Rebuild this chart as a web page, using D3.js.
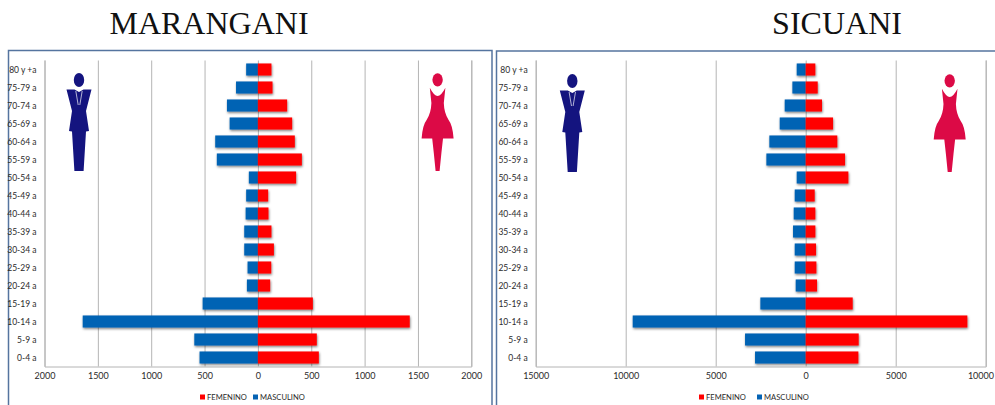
<!DOCTYPE html>
<html>
<head>
<meta charset="utf-8">
<script src="https://cdn.jsdelivr.net/npm/d3@7"></script>
<style>
html,body{margin:0;padding:0;background:#fff;overflow:hidden}
svg{display:block}
text{font-family:Lato,"Open Sans",sans-serif;fill:#2b2b2b}
</style>
</head>
<body>
<svg id="chart" width="995" height="405"></svg>
<script>
// Age groups, top row first
const ageGroups = ["80 y +a","75-79 a","70-74 a","65-69 a","60-64 a","55-59 a","50-54 a","45-49 a","40-44 a","35-39 a","30-34 a","25-29 a","20-24 a","15-19 a","10-14 a","5-9 a","0-4 a"];

// Marangani population by sex
const maranganiMasculino = [110,205,290,265,400,385,85,110,115,128,128,97,103,518,1642,596,547];
const maranganiFemenino  = [127,137,274,321,346,412,358,96,99,127,150,125,115,515,1423,552,571];
const maranganiTicks = [-2000,-1500,-1000,-500,0,500,1000,1500,2000];

// Sicuani population by sex
const sicuaniMasculino = [500,740,1167,1444,2020,2185,500,611,667,704,611,611,556,2519,9611,3370,2815];
const sicuaniFemenino  = [535,667,906,1519,1756,2185,2370,500,535,537,574,593,630,2611,8981,2944,2926];
const sicuaniTicks = [-15000,-10000,-5000,0,5000,10000];

const colorMasculino = "#0563b4";
const colorFemenino = "#ff0000";
const colorMan = "#14147f";
const colorWoman = "#dc0a46";
const frameColor = "#55749f";
const gridColor = "#b4b4b4";

const svg = d3.select("#chart");

svg.append("defs").append("filter")
  .attr("id","barShadow").attr("x","-10%").attr("y","-20%").attr("width","120%").attr("height","160%")
  .append("feDropShadow")
  .attr("dx",0.6).attr("dy",1.4).attr("stdDeviation",0.9)
  .attr("flood-color","#000").attr("flood-opacity",0.5);

// Standing man in a suit, origin at the top centre of the head
function drawMan(g){
  g.append("ellipse").attr("cx",0).attr("cy",7).attr("rx",5.2).attr("ry",7).attr("fill",colorMan);
  g.append("path").attr("fill",colorMan)
    .attr("d","M-12.5,16.5 L-4.5,16.5 L0,19 L4.5,16.5 L12.5,16.5 L7,38 L10,58 L7,58.5 L4.6,98 L-4.6,98 L-7,58.5 L-10,58 L-7,38 Z");
  g.append("path").attr("fill","none").attr("stroke","#fff").attr("stroke-width",0.8).attr("stroke-opacity",0.85)
    .attr("d","M-3.2,18 L-0.8,32 M3.2,18 L0.8,32");
}

// Standing woman in a flared dress, origin at the top centre of the head
function drawWoman(g){
  g.append("ellipse").attr("cx",0).attr("cy",6.8).attr("rx",5.2).attr("ry",6.6).attr("fill",colorWoman);
  g.append("path").attr("fill",colorWoman)
    .attr("d","M-7.8,14.7 Q-3.5,23 0,23 Q3.5,23 7.8,14.7 L6.2,30 Q6.5,40 11,47 Q15,52 16,65.5 L5.4,65.5 L3.8,80 L2,98 L-2,98 L-3.8,80 L-5.4,65.5 L-16,65.5 Q-15,52 -11,47 Q-6.5,40 -6.2,30 Z");
}

function pyramid(cfg){
  const x = d3.scaleLinear().domain(cfg.domain).range([cfg.left,cfg.right]);
  const y = d3.scaleBand().domain(ageGroups).range([60.5,366.5]).paddingInner(0.33).paddingOuter(0.165);

  // panel frame runs past the bottom edge of the page
  svg.append("path")
    .attr("d",`M${cfg.frameLeft},412V${cfg.frameTop}H${cfg.frameRight}V412`)
    .attr("fill","none").attr("stroke",frameColor).attr("stroke-width",1.5);

  svg.append("text").attr("x",cfg.titleX).attr("y",33.5).attr("text-anchor","middle")
    .style("font-family","'Liberation Serif',serif").style("font-size","32px").style("fill","#111")
    .text(cfg.title);

  const xAxis = d3.axisBottom(x).tickValues(cfg.ticks).tickSize(-306).tickPadding(7)
    .tickFormat(d => String(Math.abs(d)));
  const gx = svg.append("g").attr("transform","translate(0,366.5)").call(xAxis);
  gx.select(".domain").attr("stroke",gridColor);
  gx.selectAll(".tick line").attr("stroke",gridColor).attr("y2",-306);
  gx.selectAll(".tick text").style("font-size","9px").attr("dy","0.6em").attr("fill","#2b2b2b");
  // the last label would overrun the page, so it is held back from the edge
  gx.selectAll(".tick text").filter(d => x(d) > 975)
    .attr("text-anchor","end").attr("x",993.5 - x(cfg.domain[1]));

  const yAxis = d3.axisLeft(y).tickSize(0).tickPadding(8);
  const gy = svg.append("g").attr("transform",`translate(${cfg.left},0)`).call(yAxis);
  gy.select(".domain").remove();
  gy.selectAll(".tick text").style("font-size","8.5px").attr("dy","0.45em").attr("fill","#2b2b2b");

  const series = [
    {values:cfg.masculino, color:colorMasculino, sign:-1},
    {values:cfg.femenino, color:colorFemenino, sign:1}
  ];
  series.forEach(s => {
    svg.append("g").attr("filter","url(#barShadow)")
      .selectAll("rect").data(s.values).join("rect")
      .attr("x",d => Math.min(x(0),x(s.sign*d)))
      .attr("width",d => Math.abs(x(s.sign*d)-x(0)))
      .attr("y",(d,i) => y(ageGroups[i]))
      .attr("height",y.bandwidth())
      .attr("fill",s.color);
  });

  drawMan(svg.append("g").attr("transform",`translate(${cfg.manX},${cfg.iconTop})`));
  drawWoman(svg.append("g").attr("transform",`translate(${cfg.womanX},${cfg.iconTop})`));

  // legend row under the axis
  const legend = [
    {label:"FEMENINO",color:colorFemenino,x:cfg.legendX[0]},
    {label:"MASCULINO",color:colorMasculino,x:cfg.legendX[1]}
  ];
  const lg = svg.append("g").selectAll("g").data(legend).join("g")
    .attr("transform",d => `translate(${d.x},394.5)`);
  lg.append("rect").attr("width",5).attr("height",5).attr("fill",d => d.color);
  lg.append("text").attr("x",7).attr("y",5.5).style("font-size","7.6px").text(d => d.label);
}

pyramid({
  title:"MARANGANI", titleX:209,
  domain:[-2000,2000], left:44.5, right:471.3, ticks:maranganiTicks,
  masculino:maranganiMasculino, femenino:maranganiFemenino,
  frameLeft:8.5, frameRight:492, frameTop:50.5,
  manX:79, womanX:437.6, iconTop:73, legendX:[200,253]
});

pyramid({
  title:"SICUANI", titleX:837,
  domain:[-15000,10000], left:535.7, right:985.7, ticks:sicuaniTicks,
  masculino:sicuaniMasculino, femenino:sicuaniFemenino,
  frameLeft:496.5, frameRight:1000, frameTop:51,
  manX:572.3, womanX:949.7, iconTop:74, legendX:[699,757]
});
</script>
</body>
</html>
